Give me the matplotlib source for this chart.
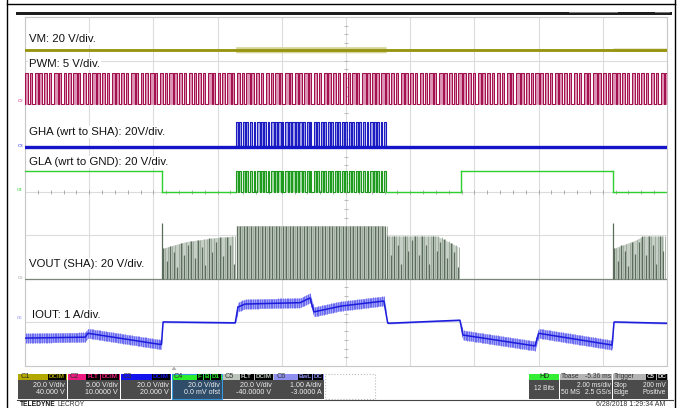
import numpy as np
import matplotlib
matplotlib.use('Agg')
import matplotlib.pyplot as plt
from matplotlib.patches import Rectangle, Polygon

plt.rcParams['font.family'] = ['Liberation Sans', 'DejaVu Sans']

# scope screen: 2 ms/div x 10 div, 8 vertical div
seg_t = [0.0, 4.27, 6.57, 11.25, 13.58, 18.32, 20.0]
gla_mode = ['high', 'low', 'sw', 'low', 'high', 'low']
gha_mode = ['low', 'low', 'sw', 'low', 'low', 'low']

vm_level = 3.25
vm_ripple = [0.025, 0.025, 0.07, 0.025, 0.025, 0.04]
pwm_low, pwm_high = 2.0, 2.72
gha_low, gha_high = 1.02, 1.59
gla_low, gla_high = 0.0, 0.47
vout_low = -2.0

# VOUT pulse tops (div)
vout_env_t = [4.29, 5.0, 6.0, 6.56, 6.58, 11.24, 11.26, 12.84, 13.58, 18.34, 19.0, 19.25, 20.0]
vout_env_v = [-1.30, -1.15, -1.05, -1.02, -0.79, -0.79, -1.02, -1.02, -1.30, -1.30, -1.12, -1.02, -1.02]
vout_spike_t = [4.27, 18.32]
vout_spike_v = [-0.72, -0.72]

# IOUT centre line (div)
iout_t = [0, 1.87, 1.96, 4.25, 4.30, 6.55, 6.63, 6.85, 8.57, 8.88, 9.0, 9.81,
          11.18, 11.30, 13.55, 13.64, 15.89, 16.0, 18.29, 18.35, 20.0]
iout_v = [-3.36, -3.34, -3.25, -3.51, -2.99, -3.01, -2.65, -2.58, -2.55, -2.44, -2.76, -2.63,
          -2.51, -3.02, -2.95, -3.29, -3.54, -3.25, -3.52, -2.99, -3.02]
iout_ripple = [0.11, 0.018, 0.11, 0.018, 0.11, 0.018]

pwm_period = 0.15
sw_period = 0.11
duty_pattern = [0.6, 0.45, 0.7, 0.5, 0.65, 0.4, 0.75, 0.55]
vout_height_pattern = [1.0, 0.55, 1.0, 0.8, 0.35, 1.0, 0.65, 0.9]

trace_labels = ['VM: 20 V/div.', 'PWM: 5 V/div.', 'GHA (wrt to SHA): 20V/div.',
                'GLA (wrt to GND): 20 V/div.', 'VOUT (SHA): 20 V/div.', 'IOUT: 1 A/div.']
label_x = [0.12, 0.12, 0.12, 0.12, 0.12, 0.22]
label_y = [3.50, 2.92, 1.36, 0.68, -1.66, -2.83]


def seg_of(t):
    return np.clip(np.searchsorted(seg_t, t, side='right') - 1, 0, len(seg_t) - 2)


def square(t0, t1, period, lo, hi):
    xs, ys = [t0], [lo]
    k = 0
    t = t0
    while t < t1:
        d = duty_pattern[k % len(duty_pattern)]
        te = min(t + d * period, t1)
        xs += [t, t, te, te]
        ys += [lo, hi, hi, lo]
        t += period
        k += 1
    xs.append(t1)
    ys.append(lo)
    return np.array(xs), np.array(ys)


fig = plt.figure(figsize=(6.82, 4.08), dpi=100)
ov = fig.add_axes([0, 0, 1, 1], zorder=0)
ov.set_xlim(0, 682)
ov.set_ylim(408, 0)
ov.axis('off')

ax = fig.add_axes([25 / 682, 42 / 408, 642 / 682, 349 / 408], zorder=1)
ax.set_xlim(0, 20)
ax.set_ylim(-4, 4)
ax.set_xticks(np.arange(0, 21, 2))
ax.set_yticks(np.arange(-4, 5, 1))
ax.grid(True, color='#dcdcdc', lw=0.8)
ax.tick_params(length=0, labelbottom=False, labelleft=False)
for s in ax.spines.values():
    s.set_color('#c8c8c8')
    s.set_linewidth(0.8)
# centre graticule ticks
ax.axhline(0, color='#a8a8a8', lw=0.7, zorder=1)
ax.plot(np.full(41, 10.0), np.arange(-4, 4.01, 0.2), ls='none', marker='_', ms=3, color='#b0b0b0', mew=0.6)
ax.plot(np.arange(0, 20.01, 0.4), np.zeros(51), ls='none', marker='|', ms=3, color='#a0a0a0', mew=0.6)

# ---- C1 VM
tt = np.linspace(0, 20, 1200)
rip = np.array(vm_ripple)[seg_of(tt)]
ax.fill_between(tt, vm_level - rip, vm_level + rip, step='mid', color='#d4d39a', lw=0, zorder=3)
ax.axhline(vm_level, color='#96940f', lw=2.0, zorder=4)

# ---- C2 PWM
px, py = square(0, 20, pwm_period, pwm_low, pwm_high)
ax.fill_between(px, pwm_low, py, color='#dc94b5', lw=0, zorder=3)
ax.plot(px, py, color='#a3124e', lw=0.75, zorder=4)

# ---- C3 GHA / C4 GLA
for i in range(len(seg_t) - 1):
    a, b = seg_t[i], seg_t[i + 1]
    if gha_mode[i] == 'sw':
        gx, gy = square(a, b, sw_period, gha_low, gha_high)
        ax.fill_between(gx, gha_low, gy, color='#a5a5ea', lw=0, zorder=3)
        ax.plot(gx, gy, color='#1c1cc0', lw=0.8, zorder=4)
    if gla_mode[i] == 'sw':
        lx, ly = square(a, b, sw_period, gla_low, gla_high)
        ax.fill_between(lx, gla_low, ly, color='#a6dca6', lw=0, zorder=3)
        ax.plot(lx, ly, color='#1e9a1e', lw=0.8, zorder=4)
    else:
        lev = gla_high if gla_mode[i] == 'high' else gla_low
        ax.plot([a, b], [lev, lev], color='#2fcf2f', lw=1.0, zorder=4)
ax.axhline(gha_low, color='#1414c8', lw=2.4, zorder=5)
# GLA edges
for i in range(1, len(seg_t) - 1):
    if gla_mode[i - 1] != 'sw' and gla_mode[i] != 'sw':
        ax.plot([seg_t[i]] * 2, [gla_low, gla_high], color='#2fcf2f', lw=1.0, zorder=4)

# ---- C5 VOUT
ax.axhline(vout_low, color='#7a877a', lw=0.9, zorder=4)
for i in range(len(seg_t) - 1):
    if gla_mode[i] == 'high':
        continue
    a, b = seg_t[i], seg_t[i + 1]
    ts = np.arange(a + 0.03, b - 0.01, sw_period)
    env = np.interp(ts, vout_env_t, vout_env_v)
    ax.fill_between(ts, vout_low, env, color='#c5cfc5', lw=0, zorder=3)
    hp = np.array([vout_height_pattern[k % len(vout_height_pattern)] for k in range(len(ts))])
    if gla_mode[i] == 'sw':
        hp = np.ones(len(ts))
    tops = vout_low + (env - vout_low) * hp
    ax.vlines(ts, vout_low, tops, color='#5d6d5d', lw=0.9, zorder=4)
    ax.vlines(ts + sw_period / 2, vout_low, env, color='#9aa69a', lw=0.6, zorder=4)
ax.vlines(vout_spike_t, vout_low, vout_spike_v, color='#5d6d5d', lw=0.9, zorder=4)

# ---- C6 IOUT
tt2 = np.linspace(0, 20, 2000)
ic = np.interp(tt2, iout_t, iout_v)
ir = np.array(iout_ripple)[seg_of(tt2)]
ax.fill_between(tt2, ic - ir, ic + ir, color='#a3a3f5', lw=0, zorder=3)
for i in range(len(seg_t) - 1):
    if iout_ripple[i] < 0.05:
        continue
    ts = np.arange(seg_t[i] + 0.04, seg_t[i + 1] - 0.02, sw_period / 2)
    c = np.interp(ts, iout_t, iout_v)
    ax.vlines(ts, c - iout_ripple[i], c + iout_ripple[i], color='#5555ee', lw=0.5, zorder=4)
ax.plot(tt2, ic, color='#1c1cdc', lw=1.1, zorder=5)

# labels
for s, x, y in zip(trace_labels, label_x, label_y):
    ax.text(x, y, s, fontsize=8.2, color='#111111', va='center', ha='left', zorder=6,
            bbox=dict(fc='white', ec='none', pad=0.6))

# ---- page decoration
ov.plot([7, 675], [4, 4], color='black', lw=1.0)
ov.plot([7, 7], [0, 408], color='black', lw=1.0)
ov.plot([675, 675], [0, 408], color='black', lw=1.0)
ov.add_patch(Rectangle((16, 12), 656, 3, fc='#1e1e1e', ec='none'))
ov.add_patch(Rectangle((569, 12), 49, 1.2, fc='#777777', ec='none'))
ov.add_patch(Rectangle((655, 12), 15, 1.2, fc='#777777', ec='none'))

for nm, yy, col in [('C2', 101, '#e0207a'), ('C3', 146, '#2a2af0'), ('C4', 190, '#22cc22'),
                    ('C5', 278, '#909a90'), ('C6', 318, '#7a7af0')]:
    ov.text(20, yy, nm, fontsize=3.2, color=col, ha='center', va='center')
ov.add_patch(Polygon([[171.5, 370], [176.5, 370], [174, 366.5]], closed=True, fc='#b0b0b0', ec='none'))


def tags_at(x_right, y, tags, col):
    xr = x_right
    for tg in reversed(tags):
        w = 4.0 * len(tg) + 2
        ov.add_patch(Rectangle((xr - w, y - 3), w, 6, fc='black', ec='none'))
        ov.text(xr - w / 2, y, tg, fontsize=4.5, color=col, ha='center', va='center', fontweight='bold')
        xr -= w + 1


def chan_box(x0, x1, head, name, tags, tagcol, l1, l2, body='#4b4b4b', edge=None):
    ov.add_patch(Rectangle((x0, 373.5), x1 - x0, 6.5, fc=head, ec='none'))
    ov.add_patch(Rectangle((x0, 380), x1 - x0, 18.5, fc=body, ec='none'))
    if edge:
        ov.add_patch(Rectangle((x0, 373.5), x1 - x0, 25, fc='none', ec=edge, lw=0.8))
    ov.text(x0 + 2.5, 377, name, fontsize=5.3, color='#333333', ha='left', va='center')
    tags_at(x1 - 1, 377, tags, tagcol)
    ov.text(x1 - 2, 385.5, l1, fontsize=5.1, color='#eeeeee', ha='right', va='center')
    ov.text(x1 - 2, 393, l2, fontsize=5.1, color='#eeeeee', ha='right', va='center')


chan_box(18, 67, '#b3a800', 'C1', ['DCIM'], '#b3a800', '20.0 V/div', '40.000 V')
chan_box(67.5, 120, '#ec1b80', 'C2', ['FLT', 'DCIM'], '#ec1b80', '5.00 V/div', '10.0000 V')
chan_box(120.5, 171, '#1212ee', 'C3', ['DCIM'], '#1212ee', '20.0 V/div', '20.000 V')
chan_box(171.5, 222, '#2aee2a', 'C4', ['F', 'B', 'D1'], '#2aee2a', '20.0 V/div', '0.0 mV ofst',
         body='#2f4d68', edge='#3a9be0')
chan_box(222.5, 273.5, '#bcc4bc', 'C5', ['FLT', 'DCIM'], '#bcc4bc', '20.0 V/div', '-40.0000 V')
chan_box(274, 324, '#8f8fef', 'C6', ['BwL', 'DC'], '#8f8fef', '1.00 A/div', '-3.0000 A')
ov.add_patch(Rectangle((325, 373.5), 50, 25, fc='none', ec='#bbbbbb', lw=0.8, ls=':'))

# HD box
fs = 4.8
ov.add_patch(Rectangle((529, 373.5), 30, 6.5, fc='#33ee33', ec='none'))
ov.add_patch(Rectangle((529, 380), 30, 18.5, fc='#4b4b4b', ec='none'))
ov.text(544, 377, 'HD', fontsize=5.0, color='#222222', ha='center', va='center')
ov.text(544, 389, '12 Bits', fontsize=fs, color='#eeeeee', ha='center', va='center')
# Tbase box
ov.add_patch(Rectangle((559.5, 373.5), 52.5, 6.5, fc='#b4b4b4', ec='none'))
ov.add_patch(Rectangle((559.5, 380), 52.5, 18.5, fc='#4b4b4b', ec='none'))
ov.text(561, 377, 'Tbase', fontsize=fs, color='#333333', ha='left', va='center')
ov.text(611, 377, '-5.36 ms', fontsize=fs, color='#333333', ha='right', va='center')
ov.text(611, 385.5, '2.00 ms/div', fontsize=fs, color='#eeeeee', ha='right', va='center')
ov.text(561, 393, '50 MS', fontsize=fs, color='#eeeeee', ha='left', va='center')
ov.text(611, 393, '2.5 GS/s', fontsize=fs, color='#eeeeee', ha='right', va='center')
# Trigger box
ov.add_patch(Rectangle((612.5, 373.5), 55.5, 6.5, fc='#b4b4b4', ec='none'))
ov.add_patch(Rectangle((612.5, 380), 55.5, 18.5, fc='#4b4b4b', ec='none'))
ov.text(614, 377, 'Trigger', fontsize=fs, color='#333333', ha='left', va='center')
tags_at(667, 377, ['C5', 'DC'], '#dddddd')
ov.text(614, 385.5, 'Stop', fontsize=fs, color='#eeeeee', ha='left', va='center')
ov.text(666, 385.5, '200 mV', fontsize=fs, color='#eeeeee', ha='right', va='center')
ov.text(614, 393, 'Edge', fontsize=fs, color='#eeeeee', ha='left', va='center')
ov.text(666, 393, 'Positive', fontsize=fs, color='#eeeeee', ha='right', va='center')

ov.plot([17, 673], [400, 400], color='#444444', lw=0.8)
ov.text(20, 404, 'TELEDYNE', fontsize=4.8, fontweight='bold', color='#111111', ha='left', va='center')
ov.text(57, 404, 'LECROY', fontsize=4.8, color='#333333', ha='left', va='center')
ov.text(665, 404, '6/28/2018 1:29:34 AM', fontsize=5.0, color='#333333', ha='right', va='center')

fig.savefig('out.png', dpi=100)
